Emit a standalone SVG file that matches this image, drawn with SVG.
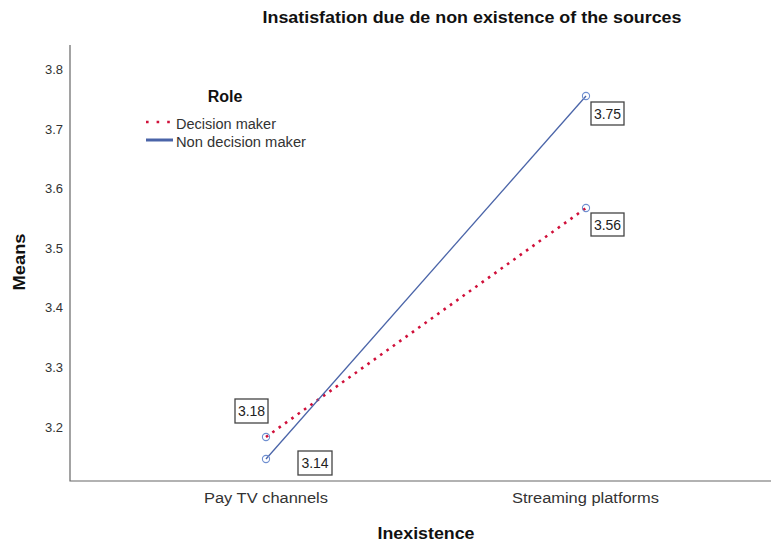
<svg xmlns="http://www.w3.org/2000/svg" width="771" height="547" viewBox="0 0 771 547">
<style>
text{font-family:"Liberation Sans",Arial,sans-serif;fill:#222}
.tick{font-size:13px;fill:#333;text-anchor:end}
.cat{font-size:14px;fill:#333;text-anchor:middle}
.ttl{font-size:16px;font-weight:bold;fill:#111}
.val{font-size:14px;fill:#222;text-anchor:middle}
.leg{font-size:14px;fill:#333}
.box{fill:#fff;stroke:#444;stroke-width:1.3}
.axis{stroke:#666;stroke-width:1.2;fill:none}
.dm{stroke:#d0103a;stroke-width:2.6;stroke-dasharray:2.6 5.2;fill:none}
.ndm{stroke:#4a64a8;stroke-width:1.3;fill:none}
.mk{fill:none;stroke:#6f8fd0;stroke-width:1.1}
</style>
<rect width="771" height="547" fill="#fff"/>
<text x="472" y="23" class="ttl" text-anchor="middle" textLength="419" lengthAdjust="spacingAndGlyphs">Insatisfation due de non existence of the sources</text>
<g id="axes">
<path class="axis" d="M70 45 V481 H771"/>
<text class="tick" x="63" y="74">3.8</text>
<text class="tick" x="63" y="134">3.7</text>
<text class="tick" x="63" y="193">3.6</text>
<text class="tick" x="63" y="253">3.5</text>
<text class="tick" x="63" y="312">3.4</text>
<text class="tick" x="63" y="372">3.3</text>
<text class="tick" x="63" y="432">3.2</text>
<text class="cat" x="266" y="503" textLength="124" lengthAdjust="spacingAndGlyphs">Pay TV channels</text>
<text class="cat" x="585.5" y="503" textLength="147" lengthAdjust="spacingAndGlyphs">Streaming platforms</text>
<text class="ttl" x="426" y="539" text-anchor="middle" textLength="97" lengthAdjust="spacingAndGlyphs">Inexistence</text>
<text class="ttl" transform="translate(25 262) rotate(-90)" text-anchor="middle" textLength="57" lengthAdjust="spacingAndGlyphs">Means</text>
</g>
<g id="legend">
<text x="225" y="102" text-anchor="middle" style="font-size:16px;font-weight:bold;fill:#111">Role</text>
<line class="dm" x1="146" y1="122" x2="172" y2="122" style="stroke-dasharray:2.6 8"/>
<text class="leg" x="176" y="129" textLength="100" lengthAdjust="spacingAndGlyphs">Decision maker</text>
<line x1="146" y1="140" x2="173" y2="140" stroke="#4a64a8" stroke-width="3"/>
<text class="leg" x="176" y="147" textLength="130" lengthAdjust="spacingAndGlyphs">Non decision maker</text>
</g>
<g id="connectors">
<line class="dm" x1="266" y1="437" x2="586" y2="208"/>
<line class="ndm" x1="266" y1="459" x2="586" y2="96"/>
</g>
<g id="dm-pay"><circle class="mk" cx="266" cy="437" r="3.6"/></g>
<g id="dm-stream"><circle class="mk" cx="586" cy="208" r="3.6"/></g>
<g id="ndm-pay"><circle class="mk" cx="266" cy="459" r="3.6"/></g>
<g id="ndm-stream"><circle class="mk" cx="586" cy="96" r="3.6"/></g>
<g id="label-318"><rect class="box" x="235" y="399" width="33" height="24"/><text class="val" x="251.5" y="416">3.18</text></g>
<g id="label-314"><rect class="box" x="298" y="451" width="34" height="24"/><text class="val" x="315" y="468">3.14</text></g>
<g id="label-375"><rect class="box" x="591" y="102" width="33" height="23"/><text class="val" x="607.5" y="118.5">3.75</text></g>
<g id="label-356"><rect class="box" x="591" y="213" width="33" height="23"/><text class="val" x="607.5" y="229.5">3.56</text></g>
</svg>
